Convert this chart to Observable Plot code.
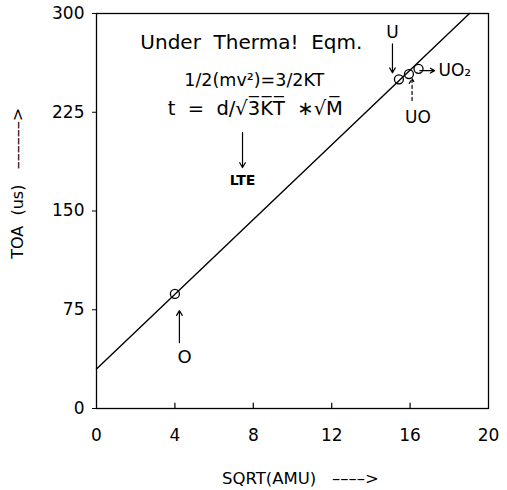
<!DOCTYPE html>
<html><head><meta charset="utf-8">
<script src="https://cdn.jsdelivr.net/npm/d3@7"></script>
<script src="https://cdn.jsdelivr.net/npm/@observablehq/plot@0.6"></script>
<style>body{margin:0;background:#fff}</style>
</head><body><div id="chart"></div>
<script>
// Data
const species = ["O", "U", "UO", "UO2"];
const sqrtAmu = [4.0, 15.43, 15.94, 16.43];
const toa = [87, 250, 254, 258];
const fitX = [0, 19.03];
const fitY = [30, 300];
const xTicks = [0, 4, 8, 12, 16, 20];
const yTicks = [0, 75, 150, 225, 300];

// Annotation texts and anchors (data units)
const noteText = ["Under\u00a0\u00a0Therma!\u00a0\u00a0Eqm.", "1/2(mv\u00b2)=3/2KT", "t\u00a0\u00a0=\u00a0\u00a0d/\u221a3\u0305K\u0305T\u0305\u00a0\u00a0\u2217\u221aM\u0305"];
const noteX = [7.9, 8.05, 8.1];
const noteY = [278, 249, 228];
const noteSize = [20, 17.5, 19.5];

const labText = ["LTE", "U", "UO\u2082", "UO", "O"];
const labX = [7.45, 15.1, 17.45, 16.4, 4.5];
const labY = [173, 285.5, 256.6, 221, 38.7];
const labAnchor = ["middle", "middle", "start", "middle", "middle"];
const labWeight = ["bold", "normal", "normal", "normal", "normal"];
const labSize = [14, 17, 17, 17, 18];

const arrX1 = [7.45, 15.1, 16.5, 4.23];
const arrY1 = [209.6, 277, 256.6, 50];
const arrX2 = [7.45, 15.1, 17.25, 4.23];
const arrY2 = [183, 255, 256.6, 74.4];
const dashX1 = [16.1], dashY1 = [234], dashX2 = [16.1], dashY2 = [250.6];

const yLabel = "TOA\u00a0\u00a0(us)\u00a0\u00a0\u00a0\u2013\u2013\u2013\u2013\u2013\u2013>";
const xLabel = "SQRT(AMU)\u00a0\u00a0\u00a0\u2013\u2013\u2013\u2013>";

const points = species.map((s, i) => ({s, x: sqrtAmu[i], y: toa[i]}));
const fit = fitX.map((x, i) => ({x, y: fitY[i]}));
const notes = noteText.map((t, i) => ({t, x: noteX[i], y: noteY[i], size: noteSize[i]}));
const labs = labText.map((t, i) => ({t, x: labX[i], y: labY[i], a: labAnchor[i], w: labWeight[i], size: labSize[i]}));
const arrows = arrX1.map((x1, i) => ({x1, y1: arrY1[i], x2: arrX2[i], y2: arrY2[i]}));
const dashed = dashX1.map((x1, i) => ({x1, y1: dashY1[i], x2: dashX2[i], y2: dashY2[i]}));

const font = "DejaVu Sans, sans-serif";
const chart = Plot.plot({
  width: 507, height: 490,
  marginLeft: 96, marginRight: 19, marginTop: 13, marginBottom: 82,
  style: {fontFamily: font, background: "#fff", color: "#000"},
  x: {domain: [0, 20]},
  y: {domain: [0, 300]},
  marks: [
    Plot.frame({stroke: "#000", strokeWidth: 1.3}),
    Plot.axisX({ticks: xTicks, tickSize: 0, tickPadding: 20, fontSize: 17, label: null}),
    Plot.axisY({ticks: yTicks, tickSize: 4, tickPadding: 8, fontSize: 17, label: null}),
    Plot.ruleX(xTicks.slice(1, -1), {y1: 0, y2: 4, stroke: "#000", strokeWidth: 1.2}),
    Plot.line(fit, {x: "x", y: "y", stroke: "#000", strokeWidth: 1.4}),
    Plot.dot(points, {x: "x", y: "y", r: 4.5, stroke: "#000", strokeWidth: 1.3, fill: "none"}),
    ...notes.map(n => Plot.text([n], {x: "x", y: "y", text: "t", fontSize: n.size, fill: "#000"})),
    ...labs.map(n => Plot.text([n], {x: "x", y: "y", text: "t", textAnchor: n.a, fontWeight: n.w, fontSize: n.size, fill: "#000"})),
    Plot.arrow(arrows, {x1: "x1", y1: "y1", x2: "x2", y2: "y2", stroke: "#000", strokeWidth: 1.2, headLength: 7}),
    Plot.arrow(dashed, {x1: "x1", y1: "y1", x2: "x2", y2: "y2", stroke: "#000", strokeWidth: 1.2, headLength: 7, strokeDasharray: "3,3"}),
    Plot.text([yLabel], {frameAnchor: "left", y: [171], text: d => d, rotate: -90, textAnchor: "middle", dx: -79, fontSize: 16, fill: "#000"}),
    Plot.text([xLabel], {frameAnchor: "bottom", x: [10.4], text: d => d, textAnchor: "middle", lineAnchor: "middle", dy: 70, fontSize: 16.5, fill: "#000"})
  ]
});
document.getElementById("chart").append(chart);
</script>
</body></html>
